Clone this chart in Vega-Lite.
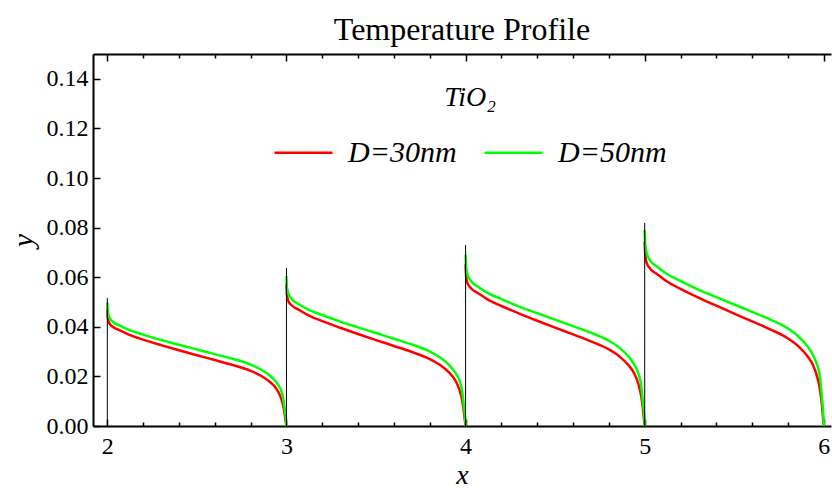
{
"$schema": "https://vega.github.io/schema/vega-lite/v6.json",
"width": 738, "height": 372,
"autosize": {"type": "none"},
"padding": {"left": 93, "top": 54, "right": 1, "bottom": 64},
"title": {"text": "Temperature Profile", "font": "Liberation Serif, Times New Roman, serif", "fontSize": 32, "fontWeight": "normal", "color": "black", "offset": 6, "anchor": "middle"},
"config": {
  "font": "Liberation Serif, Times New Roman, serif",
  "view": {"stroke": null},
  "axis": {"domainColor": "black", "domainWidth": 2, "tickColor": "black", "tickWidth": 1.5, "labelFont": "Liberation Serif, Times New Roman, serif", "labelFontSize": 24, "labelColor": "black", "titleFont": "Liberation Serif, Times New Roman, serif", "titleFontStyle": "italic", "titleFontWeight": "normal", "titleFontSize": 30, "titleColor": "black", "grid": false, "labelOverlap": false, "labelFlush": false}
},
"resolve": {"axis": {"x": "independent"}},
"layer": [
{
 "data": {"values": [
{"D":"D=30nm","seg":1,"x":2,"y":0.04694},{"D":"D=30nm","seg":1,"x":2.003,"y":0.04347},{"D":"D=30nm","seg":1,"x":2.01,"y":0.04158},{"D":"D=30nm","seg":1,"x":2.03,"y":0.04001},{"D":"D=30nm","seg":1,"x":2.07,"y":0.03856},{"D":"D=30nm","seg":1,"x":2.12,"y":0.03686},{"D":"D=30nm","seg":1,"x":2.2,"y":0.03484},{"D":"D=30nm","seg":1,"x":2.3,"y":0.03263},{"D":"D=30nm","seg":1,"x":2.4,"y":0.03056},{"D":"D=30nm","seg":1,"x":2.5,"y":0.02854},{"D":"D=30nm","seg":1,"x":2.6,"y":0.02659},{"D":"D=30nm","seg":1,"x":2.7,"y":0.02457},{"D":"D=30nm","seg":1,"x":2.8,"y":0.02224},{"D":"D=30nm","seg":1,"x":2.86,"y":0.02016},{"D":"D=30nm","seg":1,"x":2.91,"y":0.01764},{"D":"D=30nm","seg":1,"x":2.94,"y":0.01544},{"D":"D=30nm","seg":1,"x":2.966,"y":0.01197},{"D":"D=30nm","seg":1,"x":2.98,"y":0.00882},{"D":"D=30nm","seg":1,"x":2.99,"y":0.00504},{"D":"D=30nm","seg":1,"x":2.996,"y":0.00189},{"D":"D=30nm","seg":1,"x":3,"y":0},
{"D":"D=50nm","seg":1,"x":2,"y":0.0498},{"D":"D=50nm","seg":1,"x":2.003,"y":0.046},{"D":"D=50nm","seg":1,"x":2.01,"y":0.0441},{"D":"D=50nm","seg":1,"x":2.03,"y":0.0421},{"D":"D=50nm","seg":1,"x":2.07,"y":0.04045},{"D":"D=50nm","seg":1,"x":2.12,"y":0.03875},{"D":"D=50nm","seg":1,"x":2.2,"y":0.03686},{"D":"D=50nm","seg":1,"x":2.3,"y":0.03465},{"D":"D=50nm","seg":1,"x":2.4,"y":0.03276},{"D":"D=50nm","seg":1,"x":2.5,"y":0.03087},{"D":"D=50nm","seg":1,"x":2.6,"y":0.02898},{"D":"D=50nm","seg":1,"x":2.7,"y":0.02709},{"D":"D=50nm","seg":1,"x":2.8,"y":0.02476},{"D":"D=50nm","seg":1,"x":2.86,"y":0.02268},{"D":"D=50nm","seg":1,"x":2.91,"y":0.02016},{"D":"D=50nm","seg":1,"x":2.94,"y":0.01796},{"D":"D=50nm","seg":1,"x":2.966,"y":0.01506},{"D":"D=50nm","seg":1,"x":2.98,"y":0.01197},{"D":"D=50nm","seg":1,"x":2.99,"y":0.00693},{"D":"D=50nm","seg":1,"x":2.996,"y":0.00378},{"D":"D=50nm","seg":1,"x":3,"y":0},
{"D":"D=30nm","seg":2,"x":3,"y":0.05699},{"D":"D=30nm","seg":2,"x":3.003,"y":0.05279},{"D":"D=30nm","seg":2,"x":3.01,"y":0.05049},{"D":"D=30nm","seg":2,"x":3.03,"y":0.04858},{"D":"D=30nm","seg":2,"x":3.07,"y":0.04682},{"D":"D=30nm","seg":2,"x":3.12,"y":0.04475},{"D":"D=30nm","seg":2,"x":3.2,"y":0.0423},{"D":"D=30nm","seg":2,"x":3.3,"y":0.03963},{"D":"D=30nm","seg":2,"x":3.4,"y":0.0371},{"D":"D=30nm","seg":2,"x":3.5,"y":0.03465},{"D":"D=30nm","seg":2,"x":3.6,"y":0.03228},{"D":"D=30nm","seg":2,"x":3.7,"y":0.02984},{"D":"D=30nm","seg":2,"x":3.8,"y":0.027},{"D":"D=30nm","seg":2,"x":3.86,"y":0.02448},{"D":"D=30nm","seg":2,"x":3.91,"y":0.02142},{"D":"D=30nm","seg":2,"x":3.94,"y":0.01874},{"D":"D=30nm","seg":2,"x":3.966,"y":0.01454},{"D":"D=30nm","seg":2,"x":3.98,"y":0.01071},{"D":"D=30nm","seg":2,"x":3.99,"y":0.00612},{"D":"D=30nm","seg":2,"x":3.996,"y":0.0023},{"D":"D=30nm","seg":2,"x":4,"y":0},
{"D":"D=50nm","seg":2,"x":3,"y":0.06044},{"D":"D=50nm","seg":2,"x":3.003,"y":0.05585},{"D":"D=50nm","seg":2,"x":3.01,"y":0.05355},{"D":"D=50nm","seg":2,"x":3.03,"y":0.0511},{"D":"D=50nm","seg":2,"x":3.07,"y":0.04911},{"D":"D=50nm","seg":2,"x":3.12,"y":0.04705},{"D":"D=50nm","seg":2,"x":3.2,"y":0.04475},{"D":"D=50nm","seg":2,"x":3.3,"y":0.04208},{"D":"D=50nm","seg":2,"x":3.4,"y":0.03978},{"D":"D=50nm","seg":2,"x":3.5,"y":0.03749},{"D":"D=50nm","seg":2,"x":3.6,"y":0.03519},{"D":"D=50nm","seg":2,"x":3.7,"y":0.0329},{"D":"D=50nm","seg":2,"x":3.8,"y":0.03006},{"D":"D=50nm","seg":2,"x":3.86,"y":0.02754},{"D":"D=50nm","seg":2,"x":3.91,"y":0.02448},{"D":"D=50nm","seg":2,"x":3.94,"y":0.0218},{"D":"D=50nm","seg":2,"x":3.966,"y":0.01828},{"D":"D=50nm","seg":2,"x":3.98,"y":0.01454},{"D":"D=50nm","seg":2,"x":3.99,"y":0.00842},{"D":"D=50nm","seg":2,"x":3.996,"y":0.00459},{"D":"D=50nm","seg":2,"x":4,"y":0},
{"D":"D=30nm","seg":3,"x":4,"y":0.06519},{"D":"D=30nm","seg":3,"x":4.003,"y":0.06038},{"D":"D=30nm","seg":3,"x":4.01,"y":0.05775},{"D":"D=30nm","seg":3,"x":4.03,"y":0.05556},{"D":"D=30nm","seg":3,"x":4.07,"y":0.05355},{"D":"D=30nm","seg":3,"x":4.12,"y":0.05119},{"D":"D=30nm","seg":3,"x":4.2,"y":0.04839},{"D":"D=30nm","seg":3,"x":4.3,"y":0.04533},{"D":"D=30nm","seg":3,"x":4.4,"y":0.04244},{"D":"D=30nm","seg":3,"x":4.5,"y":0.03964},{"D":"D=30nm","seg":3,"x":4.6,"y":0.03693},{"D":"D=30nm","seg":3,"x":4.7,"y":0.03413},{"D":"D=30nm","seg":3,"x":4.8,"y":0.03089},{"D":"D=30nm","seg":3,"x":4.86,"y":0.028},{"D":"D=30nm","seg":3,"x":4.91,"y":0.0245},{"D":"D=30nm","seg":3,"x":4.94,"y":0.02144},{"D":"D=30nm","seg":3,"x":4.966,"y":0.01663},{"D":"D=30nm","seg":3,"x":4.98,"y":0.01225},{"D":"D=30nm","seg":3,"x":4.99,"y":0.007},{"D":"D=30nm","seg":3,"x":4.996,"y":0.00263},{"D":"D=30nm","seg":3,"x":5,"y":0},
{"D":"D=50nm","seg":3,"x":4,"y":0.06913},{"D":"D=50nm","seg":3,"x":4.003,"y":0.06388},{"D":"D=50nm","seg":3,"x":4.01,"y":0.06125},{"D":"D=50nm","seg":3,"x":4.03,"y":0.05845},{"D":"D=50nm","seg":3,"x":4.07,"y":0.05618},{"D":"D=50nm","seg":3,"x":4.12,"y":0.05381},{"D":"D=50nm","seg":3,"x":4.2,"y":0.05119},{"D":"D=50nm","seg":3,"x":4.3,"y":0.04813},{"D":"D=50nm","seg":3,"x":4.4,"y":0.0455},{"D":"D=50nm","seg":3,"x":4.5,"y":0.04288},{"D":"D=50nm","seg":3,"x":4.6,"y":0.04025},{"D":"D=50nm","seg":3,"x":4.7,"y":0.03763},{"D":"D=50nm","seg":3,"x":4.8,"y":0.03439},{"D":"D=50nm","seg":3,"x":4.86,"y":0.0315},{"D":"D=50nm","seg":3,"x":4.91,"y":0.028},{"D":"D=50nm","seg":3,"x":4.94,"y":0.02494},{"D":"D=50nm","seg":3,"x":4.966,"y":0.02091},{"D":"D=50nm","seg":3,"x":4.98,"y":0.01663},{"D":"D=50nm","seg":3,"x":4.99,"y":0.00963},{"D":"D=50nm","seg":3,"x":4.996,"y":0.00525},{"D":"D=50nm","seg":3,"x":5,"y":0},
{"D":"D=30nm","seg":4,"x":5,"y":0.0745},{"D":"D=30nm","seg":4,"x":5.003,"y":0.069},{"D":"D=30nm","seg":4,"x":5.01,"y":0.066},{"D":"D=30nm","seg":4,"x":5.03,"y":0.0635},{"D":"D=30nm","seg":4,"x":5.07,"y":0.0612},{"D":"D=30nm","seg":4,"x":5.12,"y":0.0585},{"D":"D=30nm","seg":4,"x":5.2,"y":0.0553},{"D":"D=30nm","seg":4,"x":5.3,"y":0.0518},{"D":"D=30nm","seg":4,"x":5.4,"y":0.0485},{"D":"D=30nm","seg":4,"x":5.5,"y":0.0453},{"D":"D=30nm","seg":4,"x":5.6,"y":0.0422},{"D":"D=30nm","seg":4,"x":5.7,"y":0.039},{"D":"D=30nm","seg":4,"x":5.8,"y":0.0353},{"D":"D=30nm","seg":4,"x":5.86,"y":0.032},{"D":"D=30nm","seg":4,"x":5.91,"y":0.028},{"D":"D=30nm","seg":4,"x":5.94,"y":0.0245},{"D":"D=30nm","seg":4,"x":5.966,"y":0.019},{"D":"D=30nm","seg":4,"x":5.98,"y":0.014},{"D":"D=30nm","seg":4,"x":5.99,"y":0.008},{"D":"D=30nm","seg":4,"x":5.996,"y":0.003},{"D":"D=30nm","seg":4,"x":6,"y":0},
{"D":"D=50nm","seg":4,"x":5,"y":0.079},{"D":"D=50nm","seg":4,"x":5.003,"y":0.073},{"D":"D=50nm","seg":4,"x":5.01,"y":0.07},{"D":"D=50nm","seg":4,"x":5.03,"y":0.0668},{"D":"D=50nm","seg":4,"x":5.07,"y":0.0642},{"D":"D=50nm","seg":4,"x":5.12,"y":0.0615},{"D":"D=50nm","seg":4,"x":5.2,"y":0.0585},{"D":"D=50nm","seg":4,"x":5.3,"y":0.055},{"D":"D=50nm","seg":4,"x":5.4,"y":0.052},{"D":"D=50nm","seg":4,"x":5.5,"y":0.049},{"D":"D=50nm","seg":4,"x":5.6,"y":0.046},{"D":"D=50nm","seg":4,"x":5.7,"y":0.043},{"D":"D=50nm","seg":4,"x":5.8,"y":0.0393},{"D":"D=50nm","seg":4,"x":5.86,"y":0.036},{"D":"D=50nm","seg":4,"x":5.91,"y":0.032},{"D":"D=50nm","seg":4,"x":5.94,"y":0.0285},{"D":"D=50nm","seg":4,"x":5.966,"y":0.0239},{"D":"D=50nm","seg":4,"x":5.98,"y":0.019},{"D":"D=50nm","seg":4,"x":5.99,"y":0.011},{"D":"D=50nm","seg":4,"x":5.996,"y":0.006},{"D":"D=50nm","seg":4,"x":6,"y":0}
 ]},
 "mark": {"type": "line", "strokeWidth": 2.5, "interpolate": "monotone"},
 "encoding": {
  "x": {"field": "x", "type": "quantitative", "scale": {"domain": [1.92, 6.04], "nice": false, "zero": false},
        "axis": {"orient": "bottom", "title": "x", "titleY": 57, "titleBaseline": "alphabetic", "titleFontSize": 28,
                 "values": [2,2.2,2.4,2.6,2.8,3,3.2,3.4,3.6,3.8,4,4.2,4.4,4.6,4.8,5,5.2,5.4,5.6,5.8,6],
                 "labelExpr": "abs(datum.value-round(datum.value))<0.001 ? format(datum.value,'d') : ''",
                 "tickSize": {"condition": {"test": "abs(datum.value-round(datum.value))<0.001", "value": -7}, "value": -4},
                 "labelPadding": 15}},
  "y": {"field": "y", "type": "quantitative", "scale": {"domain": [0, 0.15], "nice": false},
        "axis": {"title": "y", "titleX": -55, "titleBaseline": "bottom",
                 "values": [0,0.005,0.01,0.015,0.02,0.025,0.03,0.035,0.04,0.045,0.05,0.055,0.06,0.065,0.07,0.075,0.08,0.085,0.09,0.095,0.1,0.105,0.11,0.115,0.12,0.125,0.13,0.135,0.14,0.145],
                 "labelExpr": "abs(datum.value*50-round(datum.value*50))<0.001 ? format(datum.value,'.2f') : ''",
                 "tickSize": {"condition": {"test": "abs(datum.value*50-round(datum.value*50))<0.001", "value": -7}, "value": -4},
                 "labelPadding": 12}},
  "color": {"field": "D", "type": "nominal",
            "scale": {"domain": ["D=30nm", "D=50nm"], "range": ["#ff0000", "#00ff00"]},
            "legend": {"orient": "none", "legendX": 180, "legendY": 30, "direction": "horizontal",
                       "title": "TiO₂", "titleFont": "Liberation Serif, Times New Roman, serif", "titleFontStyle": "italic", "titleFontWeight": "normal", "titleFontSize": 28, "titleColor": "black", "titleAnchor": "middle", "titlePadding": 10,
                       "labelFont": "Liberation Serif, Times New Roman, serif", "labelFontStyle": "italic", "labelFontSize": 30, "labelColor": "black",
                       "symbolType": "stroke", "symbolSize": 3364, "symbolStrokeWidth": 2.5, "labelOffset": 14, "columnPadding": 22, "padding": 0}},
  "detail": {"field": "seg"}
 }
},
{
 "data": {"values": [{"x": 2, "top": 0.0516}, {"x": 3, "top": 0.0637}, {"x": 4, "top": 0.073}, {"x": 5, "top": 0.0819}]},
 "mark": {"type": "rule", "color": "black", "strokeWidth": 1},
 "encoding": {
  "x": {"field": "x", "type": "quantitative",
        "axis": {"orient": "top", "title": null, "labels": false,
                 "values": [2,2.2,2.4,2.6,2.8,3,3.2,3.4,3.6,3.8,4,4.2,4.4,4.6,4.8,5,5.2,5.4,5.6,5.8,6],
                 "tickSize": {"condition": {"test": "abs(datum.value-round(datum.value))<0.001", "value": -7}, "value": -4}}},
  "y": {"field": "top", "type": "quantitative", "title": "y"},
  "y2": {"datum": 0}
 }
}
]
}
